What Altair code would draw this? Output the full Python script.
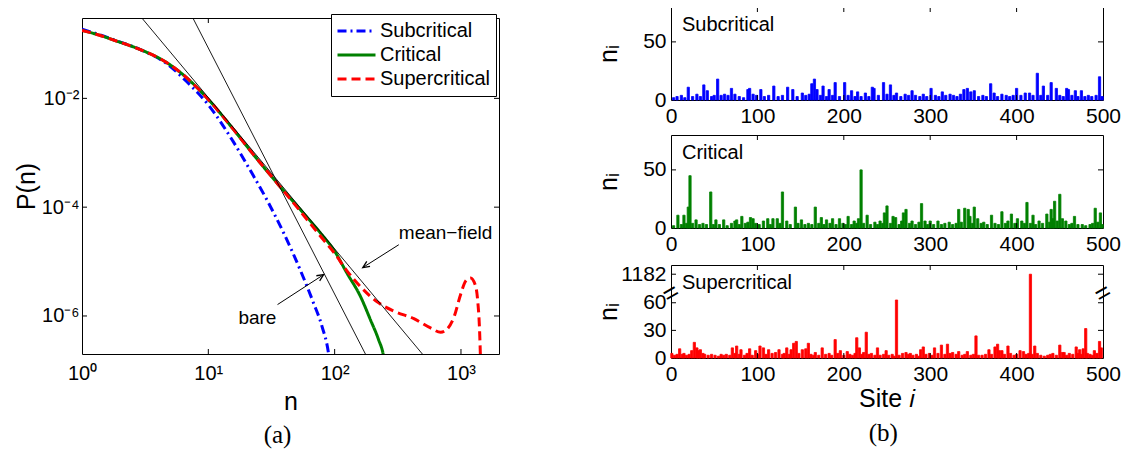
import altair as alt
import pandas as pd

FONT = "Liberation Sans"

# ---------------- left panel data: P(n) ----------------
series_names = ["Subcritical", "Critical", "Supercritical"]
series_colors = ["#0000FF", "#008000", "#FF0000"]
series_dashes = [[9, 4, 2, 4], [1, 0], [9, 5]]

sub_n = [1, 1.38, 1.87, 2.87, 4.67, 6.73, 10, 15.8, 22.7, 29, 39.4, 53.3, 68, 79.4, 89.6, 92]
sub_logp = [-0.73, -0.83, -0.94, -1.10, -1.36, -1.69, -2.12, -2.80, -3.42, -3.86, -4.47, -5.15, -5.76, -6.19, -6.7, -6.9]

crit_n = [1, 1.38, 1.87, 2.87, 4.67, 6.73, 10, 15.8, 22.7, 34.8, 53.3, 76.9, 100, 125, 160, 192, 223, 242, 250]
crit_logp = [-0.75, -0.84, -0.945, -1.10, -1.34, -1.62, -2.02, -2.57, -3.03, -3.55, -4.04, -4.47, -4.81, -5.21, -5.64, -6.07, -6.44, -6.7, -6.9]

sup_n = [1, 1.38, 1.87, 2.87, 4.67, 6.73, 10, 15.8, 22.7, 34.8, 53.3, 77, 100, 125, 160, 217, 294, 424,
         574, 690, 777, 880, 995, 1088, 1190, 1307, 1360, 1400, 1432]
sup_logp = [-0.75, -0.84, -0.945, -1.10, -1.34, -1.62, -2.02, -2.57, -3.03, -3.55, -4.07, -4.53, -4.85, -5.17,
            -5.46, -5.74, -5.91, -6.05, -6.22, -6.30, -6.24, -6.02, -5.60, -5.36, -5.30, -5.45, -5.75, -6.2, -6.9]

# reference power laws (end points)
meanfield_n = [2.5, 600]
meanfield_p = [0.488, 1.17e-7]
bare_n = [6, 200]
bare_p = [0.847, 1.1e-7]

# arrows: tail -> head
arrow_name = ["mean\u2212field", "bare"]
arrow_tail_n = [322, 35.3]
arrow_tail_p = [2.04e-5, 1.62e-6]
arrow_head_n = [167, 81.8]
arrow_head_p = [7.76e-6, 5.75e-6]
label_n = [322, 17.3]
label_p = [3.4e-5, 9.3e-7]

left_xticks = [1, 10, 100, 1000]
left_yticks = [1e-2, 1e-4, 1e-6]

# ---------------- right panel data: n_i per site ----------------
sub_sites = [3, 7, 12, 16, 20, 25, 30, 34, 38, 42, 47, 50, 54, 58, 62, 66, 70, 74, 79, 84, 89, 91, 95, 99, 104, 108, 113,
             119, 124, 129, 135, 141, 146, 152, 156, 160, 163, 166, 169, 173, 176, 180, 183, 187, 190, 195, 201, 205,
             209, 213, 216, 220, 225, 229, 233, 235, 240, 246, 250, 254, 258, 261, 266, 271, 275, 279, 283, 288, 292,
             296, 301, 306, 310, 314, 318, 323, 327, 331, 335, 339, 343, 347, 351, 356, 361, 365, 370, 374, 378, 383,
             388, 392, 396, 400, 405, 410, 415, 419, 424, 428, 431, 436, 440, 446, 450, 454, 458, 460, 464, 468, 471,
             475, 479, 483, 487, 492, 496, 499]
sub_vals = [2, 3, 4, 2, 11, 3, 5, 3, 13, 8, 3, 4, 18, 4, 5, 4, 10, 5, 3, 2, 9, 10, 5, 4, 9, 3, 4,
            12, 3, 4, 11, 9, 3, 6, 4, 5, 14, 18, 9, 4, 12, 3, 9, 4, 15, 3, 15, 4,
            8, 3, 7, 3, 6, 3, 11, 10, 4, 15, 5, 13, 4, 6, 3, 5, 4, 8, 4, 3, 5,
            3, 10, 4, 3, 7, 4, 5, 4, 3, 5, 9, 10, 7, 8, 3, 4, 3, 14, 6, 3, 5,
            4, 3, 4, 10, 4, 6, 6, 4, 23, 4, 12, 4, 15, 10, 4, 3, 10, 9, 4, 8, 3,
            8, 3, 4, 3, 4, 20, 3]

crit_sites = [3, 8, 12, 15, 18, 20, 22, 25, 29, 33, 37, 41, 46, 49, 52, 56, 61, 65, 70, 74, 76, 79, 82, 86, 89, 92, 95,
              98, 102, 107, 112, 115, 118, 123, 126, 129, 134, 138, 144, 147, 151, 155, 159, 163, 167, 171, 174, 177,
              180, 184, 187, 191, 195, 199, 202, 205, 209, 212, 215, 217, 220, 223, 227, 231, 236, 239, 242, 245, 247,
              250, 254, 257, 260, 264, 267, 269, 272, 276, 279, 283, 287, 290, 294, 297, 300, 304, 309, 313, 317, 322,
              326, 330, 333, 336, 340, 344, 346, 349, 351, 355, 359, 362, 366, 371, 375, 379, 383, 387, 390, 394, 398,
              401, 406, 409, 412, 416, 419, 422, 426, 430, 435, 438, 440, 442, 444, 447, 450, 453, 457, 461, 464, 467,
              471, 476, 480, 485, 488, 491, 494, 497, 499]
crit_vals = [2, 11, 3, 11, 4, 18, 45, 4, 7, 3, 4, 3, 31, 3, 7, 3, 7, 2, 4, 6, 7, 3, 10, 4, 5, 9, 8,
             4, 3, 6, 8, 3, 8, 8, 4, 31, 6, 3, 18, 4, 7, 3, 4, 3, 18, 4, 9, 3,
             7, 4, 8, 3, 8, 4, 3, 10, 3, 6, 4, 8, 50, 4, 11, 3, 5, 3, 6, 4, 13,
             19, 4, 10, 9, 3, 6, 13, 16, 4, 6, 3, 5, 21, 6, 3, 6, 3, 6, 3, 4, 5,
             3, 4, 16, 5, 17, 16, 10, 4, 18, 8, 4, 5, 3, 11, 4, 3, 14, 4, 6, 12, 4,
             8, 6, 4, 22, 4, 11, 3, 6, 4, 12, 5, 16, 8, 23, 6, 29, 8, 6, 3, 4, 10,
             3, 3, 2, 3, 4, 17, 5, 13, 3]

sup_sites = [1, 4, 7, 10, 13, 15, 18, 21, 24, 27, 30, 32, 34, 37, 39, 43, 47, 51, 55, 58, 61, 64, 68, 71, 74, 76, 79,
             81, 85, 88, 91, 94, 98, 101, 103, 107, 110, 113, 117, 121, 125, 129, 131, 134, 137, 139, 142, 145, 148,
             152, 156, 159, 162, 165, 167, 171, 175, 179, 183, 186, 190, 193, 196, 200, 204, 207, 210, 213, 215, 218,
             221, 223, 226, 229, 232, 236, 239, 242, 246, 249, 252, 256, 258, 261, 264, 268, 272, 275, 277, 280, 284,
             287, 289, 292, 295, 299, 302, 305, 309, 313, 317, 320, 323, 326, 330, 333, 337, 340, 343, 347, 350, 353,
             356, 360, 364, 368, 371, 375, 378, 380, 383, 386, 390, 393, 397, 400, 404, 408, 411, 414, 416, 418, 421,
             424, 428, 432, 436, 439, 442, 446, 450, 453, 455, 458, 461, 465, 469, 471, 473, 475, 477, 480, 482, 485,
             488, 490, 493, 496, 498]
sup_vals = [5, 3, 4, 10, 4, 5, 3, 4, 8, 17, 11, 8, 9, 5, 4, 3, 4, 3, 2, 4, 3, 4, 3, 11, 5, 13, 4,
            9, 3, 5, 10, 3, 8, 4, 13, 11, 4, 9, 5, 6, 9, 4, 5, 11, 4, 9, 16, 18, 5,
            9, 10, 16, 4, 3, 6, 3, 11, 4, 5, 3, 20, 5, 8, 3, 7, 4, 3, 5, 22, 11,
            4, 6, 28, 4, 5, 3, 11, 3, 4, 8, 3, 4, 2, 63, 3, 5, 6, 4, 5, 3, 4,
            2, 9, 12, 4, 5, 3, 11, 5, 14, 4, 15, 5, 6, 4, 7, 3, 4, 7, 3, 4, 24,
            3, 3, 4, 9, 4, 12, 15, 8, 8, 4, 13, 5, 3, 4, 8, 7, 4, 5, 1182, 4, 13,
            5, 3, 2, 3, 4, 5, 3, 14, 6, 6, 3, 5, 4, 12, 5, 9, 4, 10, 32, 5, 4,
            3, 8, 5, 18, 11]

site_ticks = [0, 100, 200, 300, 400, 500]
inner_site_ticks = [100, 200, 300, 400]

BREAK_ABOVE = 80      # values above this are drawn on the broken part of the axis
BREAK_POS = 91        # where the broken part sits on the display scale
BREAK_MARK = 70

# ---------------- left chart ----------------
W1, H1 = 417, 336
TL = 5
xs = alt.Scale(type="log", domain=[1, 2000], nice=False)
ys = alt.Scale(type="log", domain=[2e-7, 0.3], nice=False)

frames = []
for name, nn, lp in [("Subcritical", sub_n, sub_logp), ("Critical", crit_n, crit_logp), ("Supercritical", sup_n, sup_logp)]:
    frames.append(pd.DataFrame({"n": nn, "P": [10 ** v for v in lp], "series": name, "k": list(range(len(nn)))}))
curves = pd.concat(frames, ignore_index=True)

xaxis_left = alt.Axis(values=left_xticks, ticks=False,
                      labelExpr="datum.value == 1 ? '10\u2070' : datum.value == 10 ? '10\u00b9' : datum.value == 100 ? '10\u00b2' : '10\u00b3'",
                      labelFontSize=20, labelPadding=9, title="n", titleFontSize=25, titlePadding=6)
yaxis_left = alt.Axis(values=left_yticks, ticks=False,
                      labelExpr="datum.value > 0.005 ? '10\u207b\u00b2' : datum.value > 0.00005 ? '10\u207b\u2074' : '10\u207b\u2076'",
                      labelFontSize=20, labelPadding=3, title="P(n)", titleFontSize=25, titlePadding=2)


def LX(field):
    return alt.X(field, type="quantitative", scale=xs, axis=xaxis_left)


def LY(field):
    return alt.Y(field, type="quantitative", scale=ys, axis=yaxis_left)


leg = alt.Legend(title=None, orient="none", legendX=249, legendY=7, symbolType="stroke", symbolSize=1444,
                 symbolStrokeWidth=3, labelFontSize=20, labelFont=FONT, labelColor="black", strokeColor="black",
                 fillColor="white", padding=5, rowPadding=0, clipHeight=24, labelOffset=3)

lines = alt.Chart(curves).mark_line(strokeWidth=3, clip=True, interpolate="monotone").encode(
    x=LX("n"), y=LY("P"),
    color=alt.Color("series:N", scale=alt.Scale(domain=series_names, range=series_colors), legend=leg),
    strokeDash=alt.StrokeDash("series:N", scale=alt.Scale(domain=series_names, range=series_dashes), legend=leg),
    order="k:Q",
)

laws = pd.concat([
    pd.DataFrame({"n": meanfield_n, "P": meanfield_p, "law": "mf"}),
    pd.DataFrame({"n": bare_n, "P": bare_p, "law": "bare"}),
])
law_lines = alt.Chart(laws).mark_line(color="black", strokeWidth=0.9, clip=True).encode(
    x=LX("n"), y=LY("P"), detail="law:N")

arrows = pd.DataFrame({"name": arrow_name, "n": arrow_tail_n, "P": arrow_tail_p, "n2": arrow_head_n, "P2": arrow_head_p,
                       "ln": label_n, "lp": label_p})
arrow_lines = alt.Chart(arrows).mark_rule(color="black", strokeWidth=1).encode(
    x=LX("n"), x2="n2:Q", y=LY("P"), y2="P2:Q")
VPATH = "M -0.45 1 L 0 0 L 0.45 1"
head_mf = alt.Chart(arrows).transform_filter("datum.name != 'bare'").mark_point(
    shape=VPATH, filled=False, color="black", strokeWidth=1.3, size=180, angle=237, opacity=1).encode(
    x=LX("n2"), y=LY("P2"))
head_bare = alt.Chart(arrows).transform_filter("datum.name == 'bare'").mark_point(
    shape=VPATH, filled=False, color="black", strokeWidth=1.3, size=180, angle=57, opacity=1).encode(
    x=LX("n2"), y=LY("P2"))
arrow_text = alt.Chart(arrows).mark_text(align="left", baseline="middle", fontSize=19, font=FONT, color="black").encode(
    x=LX("ln"), y=LY("lp"), text="name:N")

ytick_df = pd.DataFrame({"P": left_yticks})
xtick_df = pd.DataFrame({"n": left_xticks[1:]})
lt1 = alt.Chart(ytick_df).mark_rule(color="black").encode(y=LY("P"), x=alt.value(0), x2=alt.value(TL))
lt2 = alt.Chart(ytick_df).mark_rule(color="black").encode(y=LY("P"), x=alt.value(W1 - TL), x2=alt.value(W1))
lt3 = alt.Chart(xtick_df).mark_rule(color="black").encode(x=LX("n"), y=alt.value(H1), y2=alt.value(H1 - TL))
lt4 = alt.Chart(xtick_df).mark_rule(color="black").encode(x=LX("n"), y=alt.value(0), y2=alt.value(TL))

left = alt.layer(lines, law_lines, arrow_lines, head_mf, head_bare, arrow_text, lt1, lt2, lt3, lt4).properties(
    width=W1, height=H1,
    title=alt.TitleParams("(a)", orient="bottom", anchor="middle", font="Liberation Serif", fontSize=25,
                          fontWeight="normal", color="black", offset=9, dx=-13))

# an empty strip above the left plot, so that it sits a little lower than the right column
blank = alt.Chart(pd.DataFrame({"P": [0]})).mark_point(opacity=0).encode(
    x=alt.value(0), y=alt.value(0)).properties(width=W1, height=1, view=alt.ViewBackground(strokeOpacity=0))

left_col = alt.vconcat(blank, left, spacing=7)

# ---------------- right panels ----------------
W2, H2 = 432, 93


def panel(sites, vals, label, color, yvals, ymax, bottom):
    df = pd.DataFrame({"site": sites, "v": vals})
    xsc = alt.Scale(domain=[0, 500], nice=False, zero=False)
    ysc = alt.Scale(domain=[0, ymax], nice=False)
    xax = alt.Axis(values=site_ticks, ticks=False, labelFontSize=21, labelPadding=5,
                   title="Site \U0001D456" if bottom else "", titleFontSize=25, titlePadding=2)
    yax = alt.Axis(values=yvals, ticks=False, labelFontSize=21, labelPadding=5,
                   labelExpr=f"datum.value == {BREAK_POS} ? '1182' : datum.label",
                   title="n\u1d62", titleFontSize=25, titleX=-50, titleY=H2 / 2, titleAngle=270,
                   titleBaseline="bottom", titleAlign="center")

    def PX(field):
        return alt.X(field, type="quantitative", scale=xsc, axis=xax)

    def PY(field):
        return alt.Y(field, type="quantitative", scale=ysc, axis=yax)

    bars = alt.Chart(df).transform_calculate(
        x0="datum.site - 1.3", x1="datum.site + 1.3",
        disp=f"datum.v > {BREAK_ABOVE} ? {BREAK_POS} : datum.v",
    ).mark_bar(color=color, stroke=color, strokeWidth=0.8).encode(
        x=PX("x0"), x2="x1:Q", y=PY("disp"), y2=alt.datum(0))
    lab = alt.Chart(pd.DataFrame({"t": [label]})).mark_text(
        align="left", baseline="alphabetic", fontSize=20, font=FONT, color="black").encode(
        x=alt.value(11), y=alt.value(24), text="t:N")
    ydf = pd.DataFrame({"disp": [v for v in yvals if v != 0]})
    xdf = pd.DataFrame({"x0": inner_site_ticks})
    t1 = alt.Chart(ydf).mark_rule(color="black").encode(y=PY("disp"), x=alt.value(0), x2=alt.value(TL))
    t2 = alt.Chart(ydf).mark_rule(color="black").encode(y=PY("disp"), x=alt.value(W2 - TL), x2=alt.value(W2))
    t3 = alt.Chart(xdf).mark_rule(color="black").encode(x=PX("x0"), y=alt.value(H2), y2=alt.value(H2 - TL))
    t4 = alt.Chart(xdf).mark_rule(color="black").encode(x=PX("x0"), y=alt.value(0), y2=alt.value(TL))
    layers = [bars, lab, t1, t2, t3, t4]
    if ymax > 90:
        bdf = pd.DataFrame({"x0": [0, 500], "disp": [BREAK_MARK, BREAK_MARK]})
        brk = alt.Chart(bdf).mark_text(text="=", fontSize=26, angle=330, font=FONT, color="black").encode(
            x=PX("x0"), y=PY("disp"))
        layers.append(brk)
    return alt.layer(*layers).properties(width=W2, height=H2)


p1 = panel(sub_sites, sub_vals, "Subcritical", "#0000FF", [0, 50], 80, False)
p2 = panel(crit_sites, crit_vals, "Critical", "#008000", [0, 50], 80, False)
p3 = panel(sup_sites, sup_vals, "Supercritical", "#FF0000", [0, 30, 60, BREAK_POS], 101, True)

right = alt.vconcat(p1, p2, p3, spacing=7).properties(
    title=alt.TitleParams("(b)", orient="bottom", anchor="middle", font="Liberation Serif", fontSize=25,
                          fontWeight="normal", color="black", offset=9, dx=25))

chart = alt.hconcat(left_col, right, spacing=95).properties(
    padding={"left": 5, "top": -4, "right": 5, "bottom": 0}
).configure_view(stroke="black", strokeWidth=1).configure_axis(
    labelFont=FONT, titleFont=FONT, labelColor="black", titleColor="black", grid=False, domain=False,
    labelFlush=False, titleFontWeight="normal"
)

chart.save("out.html", embed_options={"renderer": "svg", "actions": False})
